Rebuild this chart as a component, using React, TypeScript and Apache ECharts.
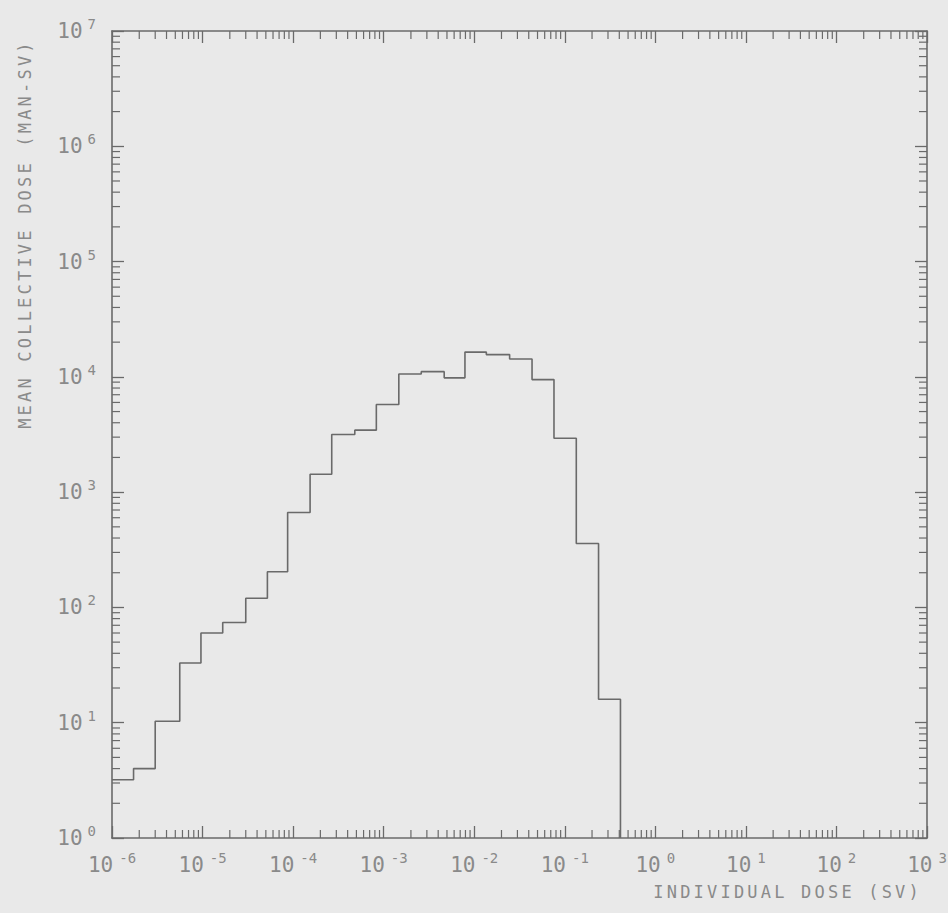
import React, { useEffect, useRef } from "react";
import * as echarts from "echarts";

// Bin edges of the histogram (individual dose, Sv)
const binEdges = [
  1.0e-6, 1.73e-6, 3.0e-6, 5.6e-6, 9.6e-6, 1.67e-5, 3.0e-5, 5.2e-5, 8.7e-5,
  1.54e-4, 2.67e-4, 4.8e-4, 8.3e-4, 1.47e-3, 2.6e-3, 4.66e-3, 7.9e-3, 1.36e-2,
  2.46e-2, 4.35e-2, 7.6e-2, 1.34e-1, 2.36e-1, 4.12e-1,
];
// Mean collective dose per bin (man-Sv)
const collectiveDose = [
  3.2, 4.0, 10.3, 33, 60, 74, 120, 204, 665, 1430, 3160, 3450, 5750, 10600,
  11100, 9800, 16400, 15600, 14300, 9470, 2930, 358, 16,
];

// Axis decades (exponents of ten)
const xExponents = [-6, -5, -4, -3, -2, -1, 0, 1, 2, 3];
const yExponents = [0, 1, 2, 3, 4, 5, 6, 7];
const minorMultipliers = [2, 3, 4, 5, 6, 7, 8, 9];

const xTitle = "INDIVIDUAL DOSE (SV)";
const yTitle = "MEAN COLLECTIVE DOSE (MAN-SV)";

const X_MIN = Math.pow(10, xExponents[0]);
const X_MAX = Math.pow(10, xExponents[xExponents.length - 1]);
const Y_MIN = Math.pow(10, yExponents[0]);
const Y_MAX = Math.pow(10, yExponents[yExponents.length - 1]);

const BG = "#e9e9e9";
const LINE = "#6a6a6a";
const TEXT = "#8a8a8a";
const FONT = '"DejaVu Sans Mono", monospace';

function minorTicks(exps: number[]) {
  const out: number[] = [];
  for (let i = 0; i < exps.length - 1; i++) {
    for (const m of minorMultipliers) out.push(m * Math.pow(10, exps[i]));
  }
  return out;
}

export default function App() {
  const ref = useRef<HTMLDivElement>(null);

  useEffect(() => {
    document.body.style.margin = "0";
    document.body.style.background = BG;
    const chart = echarts.init(ref.current!, undefined, { renderer: "svg" });

    const stepData: number[][] = collectiveDose.map((v, i) => [binEdges[i], v]);
    stepData.push([binEdges[binEdges.length - 1], collectiveDose[collectiveDose.length - 1]]);
    stepData.push([binEdges[binEdges.length - 1], Y_MIN]);

    const xMinor = minorTicks(xExponents).map((v) => [v, Y_MIN]);
    const yMinor = minorTicks(yExponents).map((v) => [X_MIN, v]);

    const richX = {
      b: { fontSize: 21, fontFamily: FONT, color: TEXT, lineHeight: 28 },
      s: { fontSize: 14, fontFamily: FONT, color: TEXT, lineHeight: 14, verticalAlign: "top" as const, padding: [0, 0, 0, 6] },
    };
    const richY = {
      b: { fontSize: 21, fontFamily: FONT, color: TEXT, lineHeight: 28 },
      s: { fontSize: 14, fontFamily: FONT, color: TEXT, lineHeight: 14, verticalAlign: "top" as const, padding: [0, 0, 0, 5] },
    };
    const fmt = (v: number) => `{b|10}{s|${Math.round(Math.log10(v))}}`;

    const axisLine = { show: true, lineStyle: { color: LINE, width: 1.6 } };
    const majorTick = { show: true, inside: true, length: 12, lineStyle: { color: LINE, width: 1.3 } };
    const MINOR_LEN = 8;

    const option: any = {
      animation: false,
      backgroundColor: BG,
      grid: { left: 112, right: 21, top: 31, bottom: 75, outerBoundsMode: "none" },
      xAxis: [
        {
          type: "log", min: X_MIN, max: X_MAX, logBase: 10, splitNumber: 9, position: "bottom",
          axisLine, axisTick: majorTick, splitLine: { show: false },
          axisLabel: { show: true, interval: 0, margin: 13, formatter: fmt, rich: richX, showMinLabel: true, showMaxLabel: true, hideOverlap: false },
        },
        {
          type: "log", min: X_MIN, max: X_MAX, logBase: 10, splitNumber: 9, position: "top",
          axisLine, axisTick: majorTick, splitLine: { show: false }, axisLabel: { show: false },
        },
      ],
      yAxis: [
        {
          type: "log", min: Y_MIN, max: Y_MAX, logBase: 10, splitNumber: 7, position: "left",
          axisLine, axisTick: majorTick, splitLine: { show: false },
          axisLabel: { show: true, interval: 0, margin: 16, formatter: fmt, rich: richY, showMinLabel: true, showMaxLabel: true, hideOverlap: false },
        },
        {
          type: "log", min: Y_MIN, max: Y_MAX, logBase: 10, splitNumber: 7, position: "right",
          axisLine, axisTick: majorTick, splitLine: { show: false }, axisLabel: { show: false },
        },
      ],
      graphic: [
        {
          type: "text", x: 922, y: 892,
          style: { text: xTitle, fill: TEXT, font: `17px ${FONT}`, textAlign: "right", textVerticalAlign: "middle" },
        },
        {
          type: "text", x: 25, y: 234, rotation: Math.PI / 2,
          style: { text: yTitle, fill: TEXT, font: `17px ${FONT}`, textAlign: "center", textVerticalAlign: "middle" },
        },
      ],
      series: [
        {
          type: "custom", xAxisIndex: 0, yAxisIndex: 0, silent: true, clip: false,
          data: xMinor,
          renderItem: (_p: any, api: any) => {
            const v = api.value(0);
            const b = api.coord([v, Y_MIN]);
            const t = api.coord([v, Y_MAX]);
            const st = { stroke: LINE, lineWidth: 1.2 };
            return {
              type: "group",
              children: [
                { type: "line", shape: { x1: b[0], y1: b[1], x2: b[0], y2: b[1] - MINOR_LEN }, style: st },
                { type: "line", shape: { x1: t[0], y1: t[1], x2: t[0], y2: t[1] + MINOR_LEN }, style: st },
              ],
            };
          },
        },
        {
          type: "custom", xAxisIndex: 0, yAxisIndex: 0, silent: true, clip: false,
          data: yMinor,
          renderItem: (_p: any, api: any) => {
            const v = api.value(1);
            const l = api.coord([X_MIN, v]);
            const r = api.coord([X_MAX, v]);
            const st = { stroke: LINE, lineWidth: 1.2 };
            return {
              type: "group",
              children: [
                { type: "line", shape: { x1: l[0], y1: l[1], x2: l[0] + MINOR_LEN, y2: l[1] }, style: st },
                { type: "line", shape: { x1: r[0], y1: r[1], x2: r[0] - MINOR_LEN, y2: r[1] }, style: st },
              ],
            };
          },
        },
        {
          type: "line", xAxisIndex: 0, yAxisIndex: 0, step: "end",
          data: stepData, showSymbol: false, symbol: "none",
          lineStyle: { color: LINE, width: 1.6 },
        },
      ],
    };

    chart.setOption(option);
    return () => chart.dispose();
  }, []);

  return (
    <>
      <style>{`#chart text[style*="17px"]{letter-spacing:3.2px}`}</style>
      <div
        id="chart"
        ref={ref}
        style={{ position: "absolute", left: 0, top: 0, width: 948, height: 913 }}
      />
    </>
  );
}
